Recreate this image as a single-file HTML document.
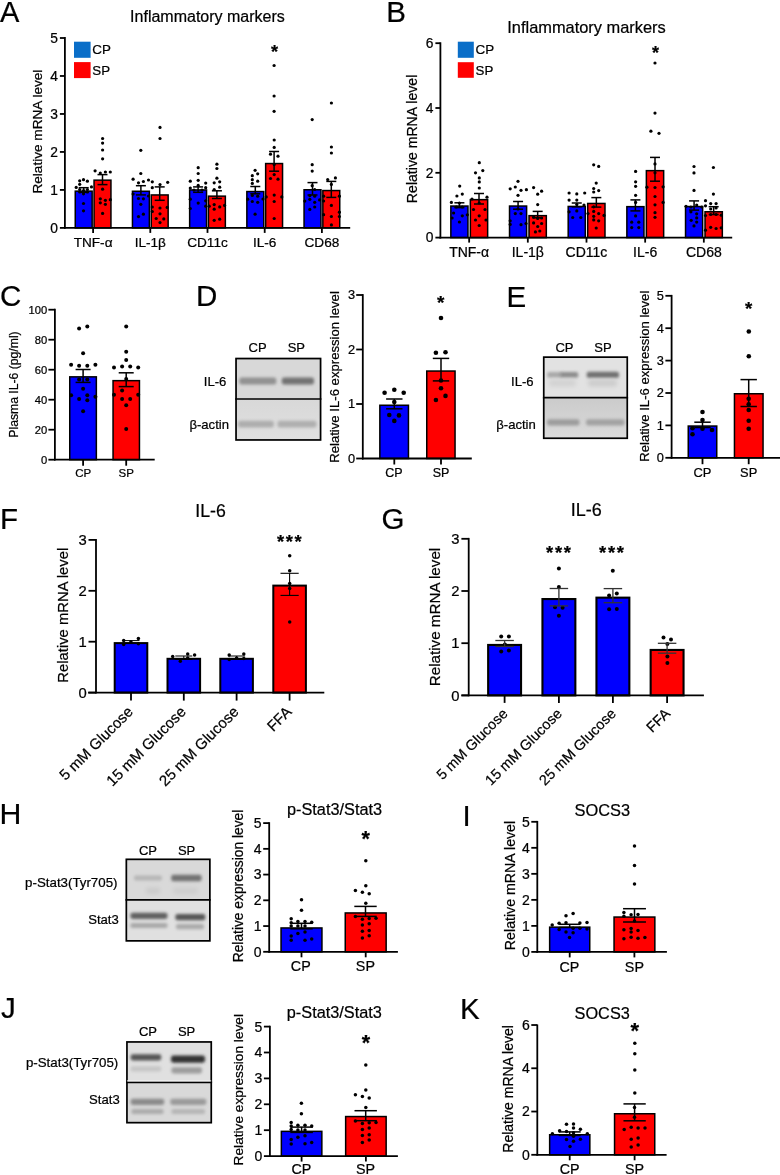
<!DOCTYPE html>
<html><head><meta charset="utf-8"><style>
html,body{margin:0;padding:0;background:#fff;}
svg{display:block;will-change:transform;font-family:"Liberation Sans", sans-serif;}
text{stroke:#000;stroke-width:0.22px;}
</style></head><body>
<svg width="780" height="1175" viewBox="0 0 780 1175">
<defs>
<filter id="bl1" x="-20%" y="-100%" width="140%" height="300%"><feGaussianBlur stdDeviation="1.5"/></filter>
<linearGradient id="gE" x1="0" y1="0" x2="0" y2="1"><stop offset="0" stop-color="#cbcbcb"/><stop offset="0.6" stop-color="#d4d4d4"/><stop offset="1" stop-color="#dcdcdc"/></linearGradient>
<linearGradient id="gD" x1="0" y1="0" x2="0" y2="1"><stop offset="0" stop-color="#d8d8d8"/><stop offset="1" stop-color="#e0e0e0"/></linearGradient>
<filter id="bl2" x="-20%" y="-100%" width="140%" height="300%"><feGaussianBlur stdDeviation="2.0"/></filter>
</defs>
<rect width="780" height="1175" fill="#fff"/>
<text x="0.00" y="21.70" font-size="29" text-anchor="start" fill="#000">A</text>
<text x="130.10" y="21.90" font-size="16" text-anchor="start" fill="#000">Inflammatory markers</text>
<text x="41.70" y="131.60" font-size="13.6" text-anchor="middle" fill="#000" transform="rotate(-90 41.70 131.60)">Relative mRNA level</text>
<line x1="64.90" y1="37.10" x2="64.90" y2="228.80" stroke="#000" stroke-width="1.8"/>
<line x1="59.90" y1="227.90" x2="64.90" y2="227.90" stroke="#000" stroke-width="1.8"/>
<text x="58.00" y="232.73" font-size="13.8" text-anchor="end" fill="#000">0</text>
<line x1="59.90" y1="189.92" x2="64.90" y2="189.92" stroke="#000" stroke-width="1.8"/>
<text x="58.00" y="194.75" font-size="13.8" text-anchor="end" fill="#000">1</text>
<line x1="59.90" y1="151.94" x2="64.90" y2="151.94" stroke="#000" stroke-width="1.8"/>
<text x="58.00" y="156.77" font-size="13.8" text-anchor="end" fill="#000">2</text>
<line x1="59.90" y1="113.96" x2="64.90" y2="113.96" stroke="#000" stroke-width="1.8"/>
<text x="58.00" y="118.79" font-size="13.8" text-anchor="end" fill="#000">3</text>
<line x1="59.90" y1="75.98" x2="64.90" y2="75.98" stroke="#000" stroke-width="1.8"/>
<text x="58.00" y="80.81" font-size="13.8" text-anchor="end" fill="#000">4</text>
<line x1="59.90" y1="38.00" x2="64.90" y2="38.00" stroke="#000" stroke-width="1.8"/>
<text x="58.00" y="42.83" font-size="13.8" text-anchor="end" fill="#000">5</text>
<rect x="75.25" y="191.15" width="16.90" height="36.75" fill="#0000ff" stroke="#000" stroke-width="1.5"/>
<rect x="94.05" y="180.15" width="16.90" height="47.75" fill="#ff0000" stroke="#000" stroke-width="1.5"/>
<rect x="132.45" y="191.25" width="16.90" height="36.65" fill="#0000ff" stroke="#000" stroke-width="1.5"/>
<rect x="151.25" y="194.95" width="16.90" height="32.95" fill="#ff0000" stroke="#000" stroke-width="1.5"/>
<rect x="189.65" y="189.95" width="16.90" height="37.95" fill="#0000ff" stroke="#000" stroke-width="1.5"/>
<rect x="208.45" y="196.15" width="16.90" height="31.75" fill="#ff0000" stroke="#000" stroke-width="1.5"/>
<rect x="246.85" y="191.55" width="16.90" height="36.35" fill="#0000ff" stroke="#000" stroke-width="1.5"/>
<rect x="265.65" y="163.55" width="16.90" height="64.35" fill="#ff0000" stroke="#000" stroke-width="1.5"/>
<rect x="304.05" y="189.75" width="16.90" height="38.15" fill="#0000ff" stroke="#000" stroke-width="1.5"/>
<rect x="322.85" y="190.55" width="16.90" height="37.35" fill="#ff0000" stroke="#000" stroke-width="1.5"/>
<circle cx="79.70" cy="180.80" r="1.6"/>
<circle cx="83.50" cy="179.70" r="1.6"/>
<circle cx="87.40" cy="181.20" r="1.6"/>
<circle cx="79.70" cy="184.30" r="1.6"/>
<circle cx="76.20" cy="187.40" r="1.6"/>
<circle cx="91.50" cy="186.90" r="1.6"/>
<circle cx="79.70" cy="189.50" r="1.6"/>
<circle cx="83.50" cy="190.50" r="1.6"/>
<circle cx="87.40" cy="189.50" r="1.6"/>
<circle cx="83.50" cy="193.80" r="1.6"/>
<circle cx="83.50" cy="203.50" r="1.6"/>
<circle cx="83.50" cy="210.80" r="1.6"/>
<circle cx="79.70" cy="192.00" r="1.6"/>
<circle cx="87.40" cy="192.00" r="1.6"/>
<circle cx="102.60" cy="138.50" r="1.6"/>
<circle cx="102.60" cy="143.10" r="1.6"/>
<circle cx="102.60" cy="150.00" r="1.6"/>
<circle cx="102.60" cy="158.80" r="1.6"/>
<circle cx="95.10" cy="170.80" r="1.6"/>
<circle cx="100.30" cy="173.10" r="1.6"/>
<circle cx="105.40" cy="172.00" r="1.6"/>
<circle cx="110.30" cy="172.00" r="1.6"/>
<circle cx="102.60" cy="189.20" r="1.6"/>
<circle cx="100.30" cy="198.80" r="1.6"/>
<circle cx="105.40" cy="200.30" r="1.6"/>
<circle cx="110.30" cy="199.70" r="1.6"/>
<circle cx="100.30" cy="202.80" r="1.6"/>
<circle cx="105.40" cy="204.30" r="1.6"/>
<circle cx="102.60" cy="213.40" r="1.6"/>
<line x1="83.70" y1="187.70" x2="83.70" y2="192.30" stroke="#000" stroke-width="1.5"/>
<line x1="78.70" y1="187.70" x2="88.70" y2="187.70" stroke="#000" stroke-width="1.5"/>
<line x1="78.70" y1="192.30" x2="88.70" y2="192.30" stroke="#000" stroke-width="1.5"/>
<line x1="102.50" y1="174.60" x2="102.50" y2="184.60" stroke="#000" stroke-width="1.5"/>
<line x1="97.50" y1="174.60" x2="107.50" y2="174.60" stroke="#000" stroke-width="1.5"/>
<line x1="97.50" y1="184.60" x2="107.50" y2="184.60" stroke="#000" stroke-width="1.5"/>
<circle cx="140.80" cy="150.30" r="1.6"/>
<circle cx="140.80" cy="173.50" r="1.6"/>
<circle cx="133.10" cy="179.20" r="1.6"/>
<circle cx="138.50" cy="182.80" r="1.6"/>
<circle cx="143.40" cy="181.50" r="1.6"/>
<circle cx="148.50" cy="180.00" r="1.6"/>
<circle cx="138.50" cy="198.50" r="1.6"/>
<circle cx="143.40" cy="198.80" r="1.6"/>
<circle cx="140.80" cy="204.30" r="1.6"/>
<circle cx="143.40" cy="214.20" r="1.6"/>
<circle cx="138.50" cy="216.60" r="1.6"/>
<circle cx="148.50" cy="196.00" r="1.6"/>
<circle cx="133.10" cy="194.00" r="1.6"/>
<circle cx="160.00" cy="127.40" r="1.6"/>
<circle cx="160.00" cy="138.50" r="1.6"/>
<circle cx="152.30" cy="181.80" r="1.6"/>
<circle cx="160.00" cy="184.60" r="1.6"/>
<circle cx="167.70" cy="182.30" r="1.6"/>
<circle cx="152.30" cy="187.70" r="1.6"/>
<circle cx="160.00" cy="208.00" r="1.6"/>
<circle cx="152.30" cy="207.00" r="1.6"/>
<circle cx="152.30" cy="211.50" r="1.6"/>
<circle cx="167.20" cy="207.40" r="1.6"/>
<circle cx="160.00" cy="213.80" r="1.6"/>
<circle cx="156.20" cy="218.50" r="1.6"/>
<circle cx="163.80" cy="218.90" r="1.6"/>
<circle cx="160.00" cy="222.60" r="1.6"/>
<line x1="140.90" y1="185.70" x2="140.90" y2="194.90" stroke="#000" stroke-width="1.5"/>
<line x1="135.90" y1="185.70" x2="145.90" y2="185.70" stroke="#000" stroke-width="1.5"/>
<line x1="135.90" y1="194.90" x2="145.90" y2="194.90" stroke="#000" stroke-width="1.5"/>
<line x1="159.70" y1="186.90" x2="159.70" y2="200.30" stroke="#000" stroke-width="1.5"/>
<line x1="154.70" y1="186.90" x2="164.70" y2="186.90" stroke="#000" stroke-width="1.5"/>
<line x1="154.70" y1="200.30" x2="164.70" y2="200.30" stroke="#000" stroke-width="1.5"/>
<circle cx="198.20" cy="167.70" r="1.6"/>
<circle cx="198.20" cy="173.50" r="1.6"/>
<circle cx="190.30" cy="181.20" r="1.6"/>
<circle cx="198.20" cy="180.30" r="1.6"/>
<circle cx="205.70" cy="183.10" r="1.6"/>
<circle cx="198.20" cy="185.40" r="1.6"/>
<circle cx="205.70" cy="187.70" r="1.6"/>
<circle cx="190.30" cy="188.00" r="1.6"/>
<circle cx="198.20" cy="203.10" r="1.6"/>
<circle cx="190.30" cy="199.20" r="1.6"/>
<circle cx="190.30" cy="208.50" r="1.6"/>
<circle cx="205.70" cy="200.80" r="1.6"/>
<circle cx="205.70" cy="206.20" r="1.6"/>
<circle cx="194.00" cy="190.00" r="1.6"/>
<circle cx="202.00" cy="190.00" r="1.6"/>
<circle cx="216.90" cy="164.20" r="1.6"/>
<circle cx="216.90" cy="168.50" r="1.6"/>
<circle cx="216.90" cy="178.20" r="1.6"/>
<circle cx="214.20" cy="182.80" r="1.6"/>
<circle cx="219.70" cy="181.80" r="1.6"/>
<circle cx="219.70" cy="187.20" r="1.6"/>
<circle cx="214.20" cy="189.50" r="1.6"/>
<circle cx="214.20" cy="204.60" r="1.6"/>
<circle cx="219.70" cy="206.90" r="1.6"/>
<circle cx="214.20" cy="209.20" r="1.6"/>
<circle cx="224.60" cy="205.40" r="1.6"/>
<circle cx="209.20" cy="206.20" r="1.6"/>
<circle cx="214.20" cy="220.30" r="1.6"/>
<circle cx="219.70" cy="219.20" r="1.6"/>
<line x1="198.10" y1="186.90" x2="198.10" y2="192.30" stroke="#000" stroke-width="1.5"/>
<line x1="193.10" y1="186.90" x2="203.10" y2="186.90" stroke="#000" stroke-width="1.5"/>
<line x1="193.10" y1="192.30" x2="203.10" y2="192.30" stroke="#000" stroke-width="1.5"/>
<line x1="216.90" y1="190.80" x2="216.90" y2="198.50" stroke="#000" stroke-width="1.5"/>
<line x1="211.90" y1="190.80" x2="221.90" y2="190.80" stroke="#000" stroke-width="1.5"/>
<line x1="211.90" y1="198.50" x2="221.90" y2="198.50" stroke="#000" stroke-width="1.5"/>
<circle cx="255.10" cy="170.30" r="1.6"/>
<circle cx="257.70" cy="173.80" r="1.6"/>
<circle cx="252.30" cy="175.70" r="1.6"/>
<circle cx="252.30" cy="179.70" r="1.6"/>
<circle cx="257.70" cy="181.20" r="1.6"/>
<circle cx="252.30" cy="183.40" r="1.6"/>
<circle cx="252.30" cy="195.40" r="1.6"/>
<circle cx="257.70" cy="196.20" r="1.6"/>
<circle cx="247.70" cy="199.20" r="1.6"/>
<circle cx="252.30" cy="201.50" r="1.6"/>
<circle cx="257.70" cy="202.30" r="1.6"/>
<circle cx="263.00" cy="199.00" r="1.6"/>
<circle cx="255.10" cy="214.20" r="1.6"/>
<circle cx="274.10" cy="65.50" r="1.6"/>
<circle cx="274.10" cy="96.00" r="1.6"/>
<circle cx="274.10" cy="111.30" r="1.6"/>
<circle cx="274.20" cy="140.00" r="1.6"/>
<circle cx="274.20" cy="147.40" r="1.6"/>
<circle cx="270.50" cy="154.20" r="1.6"/>
<circle cx="278.00" cy="156.20" r="1.6"/>
<circle cx="274.20" cy="164.60" r="1.6"/>
<circle cx="270.50" cy="178.50" r="1.6"/>
<circle cx="278.00" cy="179.20" r="1.6"/>
<circle cx="274.20" cy="174.60" r="1.6"/>
<circle cx="274.20" cy="195.10" r="1.6"/>
<circle cx="266.20" cy="196.90" r="1.6"/>
<circle cx="281.80" cy="196.90" r="1.6"/>
<circle cx="274.20" cy="201.50" r="1.6"/>
<circle cx="274.20" cy="218.50" r="1.6"/>
<line x1="255.30" y1="186.50" x2="255.30" y2="193.80" stroke="#000" stroke-width="1.5"/>
<line x1="250.30" y1="186.50" x2="260.30" y2="186.50" stroke="#000" stroke-width="1.5"/>
<line x1="250.30" y1="193.80" x2="260.30" y2="193.80" stroke="#000" stroke-width="1.5"/>
<line x1="274.10" y1="151.50" x2="274.10" y2="171.20" stroke="#000" stroke-width="1.5"/>
<line x1="269.10" y1="151.50" x2="279.10" y2="151.50" stroke="#000" stroke-width="1.5"/>
<line x1="269.10" y1="171.20" x2="279.10" y2="171.20" stroke="#000" stroke-width="1.5"/>
<circle cx="312.20" cy="119.60" r="1.6"/>
<circle cx="312.20" cy="164.70" r="1.6"/>
<circle cx="312.20" cy="171.10" r="1.6"/>
<circle cx="312.20" cy="185.70" r="1.6"/>
<circle cx="314.70" cy="189.50" r="1.6"/>
<circle cx="309.80" cy="195.60" r="1.6"/>
<circle cx="314.70" cy="196.20" r="1.6"/>
<circle cx="309.80" cy="199.30" r="1.6"/>
<circle cx="319.60" cy="199.90" r="1.6"/>
<circle cx="304.80" cy="201.10" r="1.6"/>
<circle cx="314.70" cy="202.30" r="1.6"/>
<circle cx="314.70" cy="207.00" r="1.6"/>
<circle cx="309.80" cy="209.40" r="1.6"/>
<circle cx="331.40" cy="103.00" r="1.6"/>
<circle cx="331.40" cy="147.00" r="1.6"/>
<circle cx="331.40" cy="153.00" r="1.6"/>
<circle cx="327.70" cy="179.50" r="1.6"/>
<circle cx="335.40" cy="177.90" r="1.6"/>
<circle cx="331.40" cy="184.40" r="1.6"/>
<circle cx="323.60" cy="196.20" r="1.6"/>
<circle cx="339.40" cy="196.20" r="1.6"/>
<circle cx="331.40" cy="205.40" r="1.6"/>
<circle cx="323.60" cy="201.00" r="1.6"/>
<circle cx="339.40" cy="212.20" r="1.6"/>
<circle cx="323.60" cy="214.70" r="1.6"/>
<circle cx="331.40" cy="216.50" r="1.6"/>
<circle cx="339.40" cy="216.50" r="1.6"/>
<circle cx="331.40" cy="224.90" r="1.6"/>
<line x1="312.50" y1="182.60" x2="312.50" y2="195.00" stroke="#000" stroke-width="1.5"/>
<line x1="307.50" y1="182.60" x2="317.50" y2="182.60" stroke="#000" stroke-width="1.5"/>
<line x1="307.50" y1="195.00" x2="317.50" y2="195.00" stroke="#000" stroke-width="1.5"/>
<line x1="331.30" y1="181.40" x2="331.30" y2="197.40" stroke="#000" stroke-width="1.5"/>
<line x1="326.30" y1="181.40" x2="336.30" y2="181.40" stroke="#000" stroke-width="1.5"/>
<line x1="326.30" y1="197.40" x2="336.30" y2="197.40" stroke="#000" stroke-width="1.5"/>
<line x1="64.10" y1="227.90" x2="350.20" y2="227.90" stroke="#000" stroke-width="1.8"/>
<line x1="93.10" y1="227.90" x2="93.10" y2="232.90" stroke="#000" stroke-width="1.8"/>
<line x1="150.30" y1="227.90" x2="150.30" y2="232.90" stroke="#000" stroke-width="1.8"/>
<line x1="207.50" y1="227.90" x2="207.50" y2="232.90" stroke="#000" stroke-width="1.8"/>
<line x1="264.70" y1="227.90" x2="264.70" y2="232.90" stroke="#000" stroke-width="1.8"/>
<line x1="321.90" y1="227.90" x2="321.90" y2="232.90" stroke="#000" stroke-width="1.8"/>
<rect x="74.00" y="41.70" width="16.60" height="16.10" fill="#0a6ec8"/>
<rect x="74.00" y="62.10" width="16.60" height="16.00" fill="#ff0000"/>
<text x="92.30" y="53.60" font-size="13.4" text-anchor="start" fill="#000">CP</text>
<text x="92.30" y="74.70" font-size="13.3" text-anchor="start" fill="#000">SP</text>
<text x="93.10" y="246.80" font-size="13.6" text-anchor="middle" fill="#000">TNF-α</text>
<text x="150.30" y="246.80" font-size="13.6" text-anchor="middle" fill="#000">IL-1β</text>
<text x="207.50" y="246.80" font-size="13.6" text-anchor="middle" fill="#000">CD11c</text>
<text x="264.70" y="246.80" font-size="13.6" text-anchor="middle" fill="#000">IL-6</text>
<text x="321.90" y="246.80" font-size="13.6" text-anchor="middle" fill="#000">CD68</text>
<text x="274.45" y="57.83" font-size="18.2" text-anchor="middle" fill="#000" font-weight="bold">*</text>
<text x="386.20" y="21.50" font-size="29.5" text-anchor="start" fill="#000">B</text>
<text x="507.30" y="32.60" font-size="16.4" text-anchor="start" fill="#000">Inflammatory markers</text>
<text x="417.00" y="138.90" font-size="14.1" text-anchor="middle" fill="#000" transform="rotate(-90 417.00 138.90)">Relative mRNA level</text>
<line x1="440.40" y1="42.30" x2="440.40" y2="238.50" stroke="#000" stroke-width="1.8"/>
<line x1="435.40" y1="237.60" x2="440.40" y2="237.60" stroke="#000" stroke-width="1.8"/>
<text x="433.50" y="242.43" font-size="13.8" text-anchor="end" fill="#000">0</text>
<line x1="435.40" y1="172.80" x2="440.40" y2="172.80" stroke="#000" stroke-width="1.8"/>
<text x="433.50" y="177.63" font-size="13.8" text-anchor="end" fill="#000">2</text>
<line x1="435.40" y1="108.00" x2="440.40" y2="108.00" stroke="#000" stroke-width="1.8"/>
<text x="433.50" y="112.83" font-size="13.8" text-anchor="end" fill="#000">4</text>
<line x1="435.40" y1="43.20" x2="440.40" y2="43.20" stroke="#000" stroke-width="1.8"/>
<text x="433.50" y="48.03" font-size="13.8" text-anchor="end" fill="#000">6</text>
<rect x="450.85" y="206.05" width="17.10" height="31.55" fill="#0000ff" stroke="#000" stroke-width="1.5"/>
<rect x="470.35" y="199.65" width="17.30" height="37.95" fill="#ff0000" stroke="#000" stroke-width="1.5"/>
<rect x="509.52" y="206.05" width="17.10" height="31.55" fill="#0000ff" stroke="#000" stroke-width="1.5"/>
<rect x="529.02" y="215.65" width="17.30" height="21.95" fill="#ff0000" stroke="#000" stroke-width="1.5"/>
<rect x="568.19" y="206.45" width="17.10" height="31.15" fill="#0000ff" stroke="#000" stroke-width="1.5"/>
<rect x="587.69" y="203.45" width="17.30" height="34.15" fill="#ff0000" stroke="#000" stroke-width="1.5"/>
<rect x="626.86" y="206.65" width="17.10" height="30.95" fill="#0000ff" stroke="#000" stroke-width="1.5"/>
<rect x="646.36" y="170.65" width="17.30" height="66.95" fill="#ff0000" stroke="#000" stroke-width="1.5"/>
<rect x="685.53" y="206.55" width="17.10" height="31.05" fill="#0000ff" stroke="#000" stroke-width="1.5"/>
<rect x="705.03" y="211.75" width="17.30" height="25.85" fill="#ff0000" stroke="#000" stroke-width="1.5"/>
<circle cx="459.70" cy="186.10" r="1.6"/>
<circle cx="456.90" cy="196.00" r="1.6"/>
<circle cx="462.30" cy="194.10" r="1.6"/>
<circle cx="451.40" cy="202.40" r="1.6"/>
<circle cx="459.40" cy="203.00" r="1.6"/>
<circle cx="456.30" cy="207.00" r="1.6"/>
<circle cx="462.30" cy="207.00" r="1.6"/>
<circle cx="453.60" cy="213.00" r="1.6"/>
<circle cx="462.30" cy="215.80" r="1.6"/>
<circle cx="467.30" cy="214.80" r="1.6"/>
<circle cx="452.10" cy="218.00" r="1.6"/>
<circle cx="459.40" cy="222.00" r="1.6"/>
<circle cx="479.30" cy="162.70" r="1.6"/>
<circle cx="475.50" cy="172.80" r="1.6"/>
<circle cx="482.80" cy="170.60" r="1.6"/>
<circle cx="479.30" cy="177.90" r="1.6"/>
<circle cx="479.30" cy="181.90" r="1.6"/>
<circle cx="479.30" cy="188.00" r="1.6"/>
<circle cx="487.00" cy="197.20" r="1.6"/>
<circle cx="472.00" cy="199.00" r="1.6"/>
<circle cx="479.20" cy="203.00" r="1.6"/>
<circle cx="473.50" cy="209.50" r="1.6"/>
<circle cx="485.00" cy="209.50" r="1.6"/>
<circle cx="479.20" cy="215.80" r="1.6"/>
<circle cx="475.50" cy="220.00" r="1.6"/>
<circle cx="486.00" cy="220.00" r="1.6"/>
<circle cx="479.20" cy="225.50" r="1.6"/>
<line x1="459.40" y1="202.80" x2="459.40" y2="207.60" stroke="#000" stroke-width="1.5"/>
<line x1="454.40" y1="202.80" x2="464.40" y2="202.80" stroke="#000" stroke-width="1.5"/>
<line x1="454.40" y1="207.60" x2="464.40" y2="207.60" stroke="#000" stroke-width="1.5"/>
<line x1="479.00" y1="193.50" x2="479.00" y2="204.00" stroke="#000" stroke-width="1.5"/>
<line x1="474.00" y1="193.50" x2="484.00" y2="193.50" stroke="#000" stroke-width="1.5"/>
<line x1="474.00" y1="204.00" x2="484.00" y2="204.00" stroke="#000" stroke-width="1.5"/>
<circle cx="518.00" cy="181.30" r="1.6"/>
<circle cx="510.20" cy="188.80" r="1.6"/>
<circle cx="515.30" cy="187.00" r="1.6"/>
<circle cx="521.00" cy="190.30" r="1.6"/>
<circle cx="526.40" cy="189.70" r="1.6"/>
<circle cx="518.00" cy="195.30" r="1.6"/>
<circle cx="518.00" cy="209.00" r="1.6"/>
<circle cx="515.30" cy="213.60" r="1.6"/>
<circle cx="521.00" cy="213.60" r="1.6"/>
<circle cx="510.20" cy="220.80" r="1.6"/>
<circle cx="510.20" cy="224.40" r="1.6"/>
<circle cx="521.00" cy="224.70" r="1.6"/>
<circle cx="526.00" cy="223.50" r="1.6"/>
<circle cx="533.60" cy="187.60" r="1.6"/>
<circle cx="541.60" cy="191.20" r="1.6"/>
<circle cx="537.70" cy="194.20" r="1.6"/>
<circle cx="537.70" cy="204.60" r="1.6"/>
<circle cx="533.60" cy="217.20" r="1.6"/>
<circle cx="541.60" cy="218.00" r="1.6"/>
<circle cx="537.70" cy="218.40" r="1.6"/>
<circle cx="533.60" cy="222.90" r="1.6"/>
<circle cx="541.60" cy="223.50" r="1.6"/>
<circle cx="537.70" cy="226.50" r="1.6"/>
<circle cx="535.40" cy="231.90" r="1.6"/>
<circle cx="539.80" cy="231.00" r="1.6"/>
<line x1="518.07" y1="201.50" x2="518.07" y2="209.20" stroke="#000" stroke-width="1.5"/>
<line x1="513.07" y1="201.50" x2="523.07" y2="201.50" stroke="#000" stroke-width="1.5"/>
<line x1="513.07" y1="209.20" x2="523.07" y2="209.20" stroke="#000" stroke-width="1.5"/>
<line x1="537.67" y1="211.40" x2="537.67" y2="217.80" stroke="#000" stroke-width="1.5"/>
<line x1="532.67" y1="211.40" x2="542.67" y2="211.40" stroke="#000" stroke-width="1.5"/>
<line x1="532.67" y1="217.80" x2="542.67" y2="217.80" stroke="#000" stroke-width="1.5"/>
<circle cx="569.10" cy="193.00" r="1.6"/>
<circle cx="576.80" cy="193.90" r="1.6"/>
<circle cx="584.70" cy="193.00" r="1.6"/>
<circle cx="569.10" cy="200.10" r="1.6"/>
<circle cx="576.80" cy="200.10" r="1.6"/>
<circle cx="576.80" cy="204.60" r="1.6"/>
<circle cx="569.10" cy="211.80" r="1.6"/>
<circle cx="576.80" cy="210.90" r="1.6"/>
<circle cx="572.70" cy="217.50" r="1.6"/>
<circle cx="580.80" cy="217.50" r="1.6"/>
<circle cx="584.00" cy="205.00" r="1.6"/>
<circle cx="593.70" cy="164.80" r="1.6"/>
<circle cx="598.70" cy="166.40" r="1.6"/>
<circle cx="596.20" cy="183.10" r="1.6"/>
<circle cx="593.70" cy="188.50" r="1.6"/>
<circle cx="593.70" cy="192.00" r="1.6"/>
<circle cx="598.70" cy="190.60" r="1.6"/>
<circle cx="593.70" cy="206.80" r="1.6"/>
<circle cx="588.00" cy="213.60" r="1.6"/>
<circle cx="593.70" cy="211.40" r="1.6"/>
<circle cx="598.70" cy="213.60" r="1.6"/>
<circle cx="604.00" cy="215.40" r="1.6"/>
<circle cx="593.70" cy="216.30" r="1.6"/>
<circle cx="598.70" cy="220.80" r="1.6"/>
<circle cx="593.70" cy="219.90" r="1.6"/>
<circle cx="596.20" cy="228.00" r="1.6"/>
<line x1="576.74" y1="203.00" x2="576.74" y2="206.80" stroke="#000" stroke-width="1.5"/>
<line x1="571.74" y1="203.00" x2="581.74" y2="203.00" stroke="#000" stroke-width="1.5"/>
<line x1="571.74" y1="206.80" x2="581.74" y2="206.80" stroke="#000" stroke-width="1.5"/>
<line x1="596.34" y1="197.60" x2="596.34" y2="207.10" stroke="#000" stroke-width="1.5"/>
<line x1="591.34" y1="197.60" x2="601.34" y2="197.60" stroke="#000" stroke-width="1.5"/>
<line x1="591.34" y1="207.10" x2="601.34" y2="207.10" stroke="#000" stroke-width="1.5"/>
<circle cx="635.60" cy="171.40" r="1.6"/>
<circle cx="635.60" cy="181.80" r="1.6"/>
<circle cx="635.60" cy="186.30" r="1.6"/>
<circle cx="635.60" cy="195.30" r="1.6"/>
<circle cx="635.60" cy="202.40" r="1.6"/>
<circle cx="635.60" cy="215.90" r="1.6"/>
<circle cx="631.70" cy="222.20" r="1.6"/>
<circle cx="638.80" cy="222.20" r="1.6"/>
<circle cx="631.70" cy="227.60" r="1.6"/>
<circle cx="638.80" cy="227.60" r="1.6"/>
<circle cx="655.00" cy="63.00" r="1.6"/>
<circle cx="655.00" cy="113.10" r="1.6"/>
<circle cx="650.90" cy="131.20" r="1.6"/>
<circle cx="659.00" cy="133.30" r="1.6"/>
<circle cx="655.00" cy="163.90" r="1.6"/>
<circle cx="655.00" cy="172.80" r="1.6"/>
<circle cx="646.90" cy="187.20" r="1.6"/>
<circle cx="655.00" cy="187.50" r="1.6"/>
<circle cx="663.10" cy="186.80" r="1.6"/>
<circle cx="655.00" cy="196.50" r="1.6"/>
<circle cx="663.10" cy="202.40" r="1.6"/>
<circle cx="655.00" cy="204.80" r="1.6"/>
<circle cx="655.00" cy="212.70" r="1.6"/>
<circle cx="655.00" cy="217.30" r="1.6"/>
<line x1="635.41" y1="199.90" x2="635.41" y2="210.90" stroke="#000" stroke-width="1.5"/>
<line x1="630.41" y1="199.90" x2="640.41" y2="199.90" stroke="#000" stroke-width="1.5"/>
<line x1="630.41" y1="210.90" x2="640.41" y2="210.90" stroke="#000" stroke-width="1.5"/>
<line x1="655.01" y1="157.40" x2="655.01" y2="181.20" stroke="#000" stroke-width="1.5"/>
<line x1="650.01" y1="157.40" x2="660.01" y2="157.40" stroke="#000" stroke-width="1.5"/>
<line x1="650.01" y1="181.20" x2="660.01" y2="181.20" stroke="#000" stroke-width="1.5"/>
<circle cx="694.00" cy="166.50" r="1.6"/>
<circle cx="694.00" cy="172.90" r="1.6"/>
<circle cx="694.00" cy="190.40" r="1.6"/>
<circle cx="686.00" cy="206.30" r="1.6"/>
<circle cx="690.90" cy="207.00" r="1.6"/>
<circle cx="696.70" cy="205.00" r="1.6"/>
<circle cx="701.80" cy="207.00" r="1.6"/>
<circle cx="690.90" cy="211.80" r="1.6"/>
<circle cx="696.70" cy="213.80" r="1.6"/>
<circle cx="696.70" cy="217.90" r="1.6"/>
<circle cx="691.20" cy="220.30" r="1.6"/>
<circle cx="696.70" cy="222.10" r="1.6"/>
<circle cx="694.00" cy="225.90" r="1.6"/>
<circle cx="713.40" cy="167.50" r="1.6"/>
<circle cx="713.40" cy="194.10" r="1.6"/>
<circle cx="705.50" cy="200.70" r="1.6"/>
<circle cx="705.50" cy="205.80" r="1.6"/>
<circle cx="710.70" cy="203.60" r="1.6"/>
<circle cx="716.10" cy="203.60" r="1.6"/>
<circle cx="710.70" cy="209.00" r="1.6"/>
<circle cx="716.10" cy="208.00" r="1.6"/>
<circle cx="710.70" cy="214.50" r="1.6"/>
<circle cx="716.10" cy="214.50" r="1.6"/>
<circle cx="705.50" cy="215.50" r="1.6"/>
<circle cx="721.20" cy="215.20" r="1.6"/>
<circle cx="710.70" cy="227.30" r="1.6"/>
<circle cx="716.10" cy="228.50" r="1.6"/>
<circle cx="705.50" cy="230.20" r="1.6"/>
<circle cx="721.20" cy="227.80" r="1.6"/>
<line x1="694.08" y1="200.90" x2="694.08" y2="210.10" stroke="#000" stroke-width="1.5"/>
<line x1="689.08" y1="200.90" x2="699.08" y2="200.90" stroke="#000" stroke-width="1.5"/>
<line x1="689.08" y1="210.10" x2="699.08" y2="210.10" stroke="#000" stroke-width="1.5"/>
<line x1="713.68" y1="206.70" x2="713.68" y2="214.50" stroke="#000" stroke-width="1.5"/>
<line x1="708.68" y1="206.70" x2="718.68" y2="206.70" stroke="#000" stroke-width="1.5"/>
<line x1="708.68" y1="214.50" x2="718.68" y2="214.50" stroke="#000" stroke-width="1.5"/>
<line x1="439.60" y1="237.60" x2="732.20" y2="237.60" stroke="#000" stroke-width="1.8"/>
<line x1="469.15" y1="237.60" x2="469.15" y2="242.60" stroke="#000" stroke-width="1.8"/>
<line x1="527.82" y1="237.60" x2="527.82" y2="242.60" stroke="#000" stroke-width="1.8"/>
<line x1="586.49" y1="237.60" x2="586.49" y2="242.60" stroke="#000" stroke-width="1.8"/>
<line x1="645.16" y1="237.60" x2="645.16" y2="242.60" stroke="#000" stroke-width="1.8"/>
<line x1="703.83" y1="237.60" x2="703.83" y2="242.60" stroke="#000" stroke-width="1.8"/>
<rect x="457.80" y="41.70" width="16.00" height="16.10" fill="#0a6ec8"/>
<rect x="457.80" y="62.20" width="16.00" height="15.60" fill="#ff0000"/>
<text x="475.60" y="53.60" font-size="13.4" text-anchor="start" fill="#000">CP</text>
<text x="475.60" y="74.70" font-size="13.3" text-anchor="start" fill="#000">SP</text>
<text x="469.15" y="257.00" font-size="14" text-anchor="middle" fill="#000">TNF-α</text>
<text x="527.82" y="257.00" font-size="14" text-anchor="middle" fill="#000">IL-1β</text>
<text x="586.49" y="257.00" font-size="14" text-anchor="middle" fill="#000">CD11c</text>
<text x="645.16" y="257.00" font-size="14" text-anchor="middle" fill="#000">IL-6</text>
<text x="703.83" y="257.00" font-size="14" text-anchor="middle" fill="#000">CD68</text>
<text x="655.40" y="59.38" font-size="18.0" text-anchor="middle" fill="#000" font-weight="bold">*</text>
<text x="0.00" y="306.20" font-size="29.5" text-anchor="start" fill="#000">C</text>
<text x="17.80" y="384.50" font-size="12.2" text-anchor="middle" fill="#000" transform="rotate(-90 17.80 384.50)">Plasma IL-6 (pg/ml)</text>
<line x1="54.90" y1="308.80" x2="54.90" y2="460.60" stroke="#000" stroke-width="1.8"/>
<line x1="48.40" y1="459.70" x2="54.90" y2="459.70" stroke="#000" stroke-width="1.8"/>
<text x="47.20" y="463.62" font-size="11.2" text-anchor="end" fill="#000">0</text>
<line x1="48.40" y1="429.70" x2="54.90" y2="429.70" stroke="#000" stroke-width="1.8"/>
<text x="47.20" y="433.62" font-size="11.2" text-anchor="end" fill="#000">20</text>
<line x1="48.40" y1="399.70" x2="54.90" y2="399.70" stroke="#000" stroke-width="1.8"/>
<text x="47.20" y="403.62" font-size="11.2" text-anchor="end" fill="#000">40</text>
<line x1="48.40" y1="369.70" x2="54.90" y2="369.70" stroke="#000" stroke-width="1.8"/>
<text x="47.20" y="373.62" font-size="11.2" text-anchor="end" fill="#000">60</text>
<line x1="48.40" y1="339.70" x2="54.90" y2="339.70" stroke="#000" stroke-width="1.8"/>
<text x="47.20" y="343.62" font-size="11.2" text-anchor="end" fill="#000">80</text>
<line x1="48.40" y1="309.70" x2="54.90" y2="309.70" stroke="#000" stroke-width="1.8"/>
<text x="47.20" y="313.62" font-size="11.2" text-anchor="end" fill="#000">100</text>
<rect x="69.75" y="376.85" width="26.60" height="82.85" fill="#0000ff" stroke="#000" stroke-width="1.5"/>
<rect x="113.05" y="380.65" width="26.40" height="79.05" fill="#ff0000" stroke="#000" stroke-width="1.5"/>
<circle cx="79.10" cy="328.60" r="2.0"/>
<circle cx="87.30" cy="326.50" r="2.0"/>
<circle cx="83.10" cy="353.20" r="2.0"/>
<circle cx="71.10" cy="364.80" r="2.0"/>
<circle cx="79.10" cy="365.80" r="2.0"/>
<circle cx="87.30" cy="365.80" r="2.0"/>
<circle cx="95.40" cy="364.80" r="2.0"/>
<circle cx="79.10" cy="379.60" r="2.0"/>
<circle cx="87.30" cy="379.60" r="2.0"/>
<circle cx="83.10" cy="388.70" r="2.0"/>
<circle cx="71.10" cy="395.30" r="2.0"/>
<circle cx="87.30" cy="395.30" r="2.0"/>
<circle cx="95.40" cy="396.70" r="2.0"/>
<circle cx="79.10" cy="398.90" r="2.0"/>
<circle cx="87.30" cy="400.20" r="2.0"/>
<circle cx="83.10" cy="411.20" r="2.0"/>
<circle cx="126.20" cy="326.50" r="2.0"/>
<circle cx="126.20" cy="351.80" r="2.0"/>
<circle cx="126.20" cy="359.90" r="2.0"/>
<circle cx="114.00" cy="367.60" r="2.0"/>
<circle cx="122.10" cy="366.50" r="2.0"/>
<circle cx="130.20" cy="366.50" r="2.0"/>
<circle cx="138.20" cy="367.60" r="2.0"/>
<circle cx="126.20" cy="378.90" r="2.0"/>
<circle cx="122.10" cy="390.50" r="2.0"/>
<circle cx="114.00" cy="394.70" r="2.0"/>
<circle cx="138.20" cy="394.70" r="2.0"/>
<circle cx="122.10" cy="398.90" r="2.0"/>
<circle cx="130.20" cy="398.90" r="2.0"/>
<circle cx="126.20" cy="405.30" r="2.0"/>
<circle cx="126.20" cy="429.00" r="2.0"/>
<line x1="83.10" y1="369.50" x2="83.10" y2="382.40" stroke="#000" stroke-width="1.5"/>
<line x1="75.60" y1="369.50" x2="90.60" y2="369.50" stroke="#000" stroke-width="1.5"/>
<line x1="75.60" y1="382.40" x2="90.60" y2="382.40" stroke="#000" stroke-width="1.5"/>
<line x1="126.20" y1="372.80" x2="126.20" y2="386.60" stroke="#000" stroke-width="1.5"/>
<line x1="118.70" y1="372.80" x2="133.70" y2="372.80" stroke="#000" stroke-width="1.5"/>
<line x1="118.70" y1="386.60" x2="133.70" y2="386.60" stroke="#000" stroke-width="1.5"/>
<line x1="54.10" y1="459.70" x2="154.70" y2="459.70" stroke="#000" stroke-width="1.8"/>
<line x1="83.10" y1="459.70" x2="83.10" y2="465.70" stroke="#000" stroke-width="1.8"/>
<line x1="126.20" y1="459.70" x2="126.20" y2="465.70" stroke="#000" stroke-width="1.8"/>
<text x="83.30" y="477.00" font-size="11.5" text-anchor="middle" fill="#000">CP</text>
<text x="126.20" y="477.00" font-size="11.5" text-anchor="middle" fill="#000">SP</text>
<text x="196.10" y="306.20" font-size="29.5" text-anchor="start" fill="#000">D</text>
<rect x="235.20" y="357.70" width="86.20" height="41.30" fill="#d8d8d8"/>
<rect x="235.20" y="399.00" width="86.20" height="41.80" fill="url(#gD)"/>
<rect x="239.30" y="377.40" width="37.00" height="7.20" rx="2.40" fill="#919191" fill-opacity="1" filter="url(#bl1)"/>
<rect x="281.80" y="377.40" width="32.20" height="7.20" rx="2.40" fill="#727272" fill-opacity="1" filter="url(#bl1)"/>
<rect x="238.00" y="420.75" width="35.80" height="6.70" rx="2.23" fill="#adadad" fill-opacity="1" filter="url(#bl1)"/>
<rect x="277.50" y="420.75" width="39.00" height="6.70" rx="2.23" fill="#afafaf" fill-opacity="1" filter="url(#bl1)"/>
<rect x="236.05" y="358.55" width="84.50" height="81.40" fill="none" stroke="#000" stroke-width="1.7"/>
<line x1="235.20" y1="399.00" x2="321.40" y2="399.00" stroke="#000" stroke-width="1.7"/>
<text x="257.60" y="352.00" font-size="13" text-anchor="middle" fill="#000">CP</text>
<text x="296.30" y="352.00" font-size="13" text-anchor="middle" fill="#000">SP</text>
<text x="226.40" y="386.20" font-size="13.1" text-anchor="end" fill="#000">IL-6</text>
<text x="229.00" y="429.00" font-size="13.1" text-anchor="end" fill="#000">β-actin</text>
<text x="339.00" y="377.00" font-size="13.15" text-anchor="middle" fill="#000" transform="rotate(-90 339.00 377.00)">Relative IL-6 expression level</text>
<line x1="362.80" y1="294.10" x2="362.80" y2="459.40" stroke="#000" stroke-width="1.8"/>
<line x1="356.20" y1="458.50" x2="362.80" y2="458.50" stroke="#000" stroke-width="1.8"/>
<text x="355.00" y="462.98" font-size="12.8" text-anchor="end" fill="#000">0</text>
<line x1="356.20" y1="404.00" x2="362.80" y2="404.00" stroke="#000" stroke-width="1.8"/>
<text x="355.00" y="408.48" font-size="12.8" text-anchor="end" fill="#000">1</text>
<line x1="356.20" y1="349.50" x2="362.80" y2="349.50" stroke="#000" stroke-width="1.8"/>
<text x="355.00" y="353.98" font-size="12.8" text-anchor="end" fill="#000">2</text>
<line x1="356.20" y1="295.00" x2="362.80" y2="295.00" stroke="#000" stroke-width="1.8"/>
<text x="355.00" y="299.48" font-size="12.8" text-anchor="end" fill="#000">3</text>
<rect x="379.85" y="405.25" width="28.60" height="53.25" fill="#0000ff" stroke="#000" stroke-width="1.5"/>
<rect x="426.75" y="371.05" width="28.30" height="87.45" fill="#ff0000" stroke="#000" stroke-width="1.5"/>
<circle cx="384.60" cy="392.80" r="2.3"/>
<circle cx="394.30" cy="389.70" r="2.3"/>
<circle cx="403.70" cy="392.80" r="2.3"/>
<circle cx="394.30" cy="402.00" r="2.3"/>
<circle cx="389.30" cy="415.00" r="2.3"/>
<circle cx="399.00" cy="415.40" r="2.3"/>
<circle cx="394.30" cy="420.90" r="2.3"/>
<circle cx="441.00" cy="318.00" r="2.3"/>
<circle cx="435.90" cy="352.80" r="2.3"/>
<circle cx="445.50" cy="352.20" r="2.3"/>
<circle cx="441.00" cy="380.50" r="2.3"/>
<circle cx="441.00" cy="388.30" r="2.3"/>
<circle cx="435.90" cy="400.00" r="2.3"/>
<circle cx="445.50" cy="395.90" r="2.3"/>
<line x1="394.30" y1="399.00" x2="394.30" y2="408.80" stroke="#000" stroke-width="1.5"/>
<line x1="386.10" y1="399.00" x2="402.50" y2="399.00" stroke="#000" stroke-width="1.5"/>
<line x1="386.10" y1="408.80" x2="402.50" y2="408.80" stroke="#000" stroke-width="1.5"/>
<line x1="441.00" y1="358.40" x2="441.00" y2="380.90" stroke="#000" stroke-width="1.5"/>
<line x1="432.80" y1="358.40" x2="449.20" y2="358.40" stroke="#000" stroke-width="1.5"/>
<line x1="432.80" y1="380.90" x2="449.20" y2="380.90" stroke="#000" stroke-width="1.5"/>
<line x1="362.00" y1="458.50" x2="471.80" y2="458.50" stroke="#000" stroke-width="1.8"/>
<line x1="394.30" y1="458.50" x2="394.30" y2="464.50" stroke="#000" stroke-width="1.8"/>
<line x1="441.00" y1="458.50" x2="441.00" y2="464.50" stroke="#000" stroke-width="1.8"/>
<text x="394.00" y="477.20" font-size="12.5" text-anchor="middle" fill="#000">CP</text>
<text x="441.00" y="477.20" font-size="12.5" text-anchor="middle" fill="#000">SP</text>
<text x="440.70" y="309.39" font-size="19.0" text-anchor="middle" fill="#000" font-weight="bold">*</text>
<text x="506.40" y="306.50" font-size="29.5" text-anchor="start" fill="#000">E</text>
<rect x="542.90" y="356.30" width="85.20" height="41.40" fill="#e2e2e2"/>
<rect x="542.90" y="397.70" width="85.20" height="41.40" fill="url(#gE)"/>
<rect x="547.10" y="372.05" width="14.90" height="5.70" rx="1.90" fill="#a8a8a8" fill-opacity="1" filter="url(#bl1)"/>
<rect x="560.00" y="372.05" width="18.20" height="5.70" rx="1.90" fill="#8c8c8c" fill-opacity="1" filter="url(#bl1)"/>
<rect x="586.70" y="371.80" width="32.30" height="6.20" rx="2.07" fill="#707070" fill-opacity="1" filter="url(#bl1)"/>
<rect x="549.00" y="379.40" width="27.00" height="7.20" rx="2.40" fill="#d2d2d2" fill-opacity="1" filter="url(#bl2)"/>
<rect x="588.00" y="379.40" width="29.00" height="7.20" rx="2.40" fill="#cccccc" fill-opacity="1" filter="url(#bl2)"/>
<rect x="547.10" y="419.30" width="32.30" height="6.20" rx="2.07" fill="#9c9c9c" fill-opacity="1" filter="url(#bl1)"/>
<rect x="586.10" y="419.30" width="38.40" height="6.20" rx="2.07" fill="#a2a2a2" fill-opacity="1" filter="url(#bl1)"/>
<rect x="543.75" y="357.15" width="83.50" height="81.10" fill="none" stroke="#000" stroke-width="1.7"/>
<line x1="542.90" y1="397.70" x2="628.10" y2="397.70" stroke="#000" stroke-width="1.7"/>
<text x="564.50" y="352.00" font-size="13" text-anchor="middle" fill="#000">CP</text>
<text x="602.90" y="352.00" font-size="13" text-anchor="middle" fill="#000">SP</text>
<text x="533.60" y="385.60" font-size="13.1" text-anchor="end" fill="#000">IL-6</text>
<text x="535.80" y="429.00" font-size="13.1" text-anchor="end" fill="#000">β-actin</text>
<text x="649.30" y="376.20" font-size="13.1" text-anchor="middle" fill="#000" transform="rotate(-90 649.30 376.20)">Relative IL-6 expression level</text>
<line x1="671.60" y1="294.90" x2="671.60" y2="458.70" stroke="#000" stroke-width="1.8"/>
<line x1="665.40" y1="457.80" x2="671.60" y2="457.80" stroke="#000" stroke-width="1.8"/>
<text x="663.80" y="462.28" font-size="12.8" text-anchor="end" fill="#000">0</text>
<line x1="665.40" y1="425.40" x2="671.60" y2="425.40" stroke="#000" stroke-width="1.8"/>
<text x="663.80" y="429.88" font-size="12.8" text-anchor="end" fill="#000">1</text>
<line x1="665.40" y1="393.00" x2="671.60" y2="393.00" stroke="#000" stroke-width="1.8"/>
<text x="663.80" y="397.48" font-size="12.8" text-anchor="end" fill="#000">2</text>
<line x1="665.40" y1="360.60" x2="671.60" y2="360.60" stroke="#000" stroke-width="1.8"/>
<text x="663.80" y="365.08" font-size="12.8" text-anchor="end" fill="#000">3</text>
<line x1="665.40" y1="328.20" x2="671.60" y2="328.20" stroke="#000" stroke-width="1.8"/>
<text x="663.80" y="332.68" font-size="12.8" text-anchor="end" fill="#000">4</text>
<line x1="665.40" y1="295.80" x2="671.60" y2="295.80" stroke="#000" stroke-width="1.8"/>
<text x="663.80" y="300.28" font-size="12.8" text-anchor="end" fill="#000">5</text>
<rect x="688.25" y="426.05" width="28.50" height="31.75" fill="#0000ff" stroke="#000" stroke-width="1.5"/>
<rect x="734.45" y="393.75" width="28.60" height="64.05" fill="#ff0000" stroke="#000" stroke-width="1.5"/>
<circle cx="702.50" cy="412.00" r="2.3"/>
<circle cx="702.50" cy="420.00" r="2.3"/>
<circle cx="692.50" cy="428.30" r="2.3"/>
<circle cx="702.50" cy="428.70" r="2.3"/>
<circle cx="712.00" cy="430.00" r="2.3"/>
<circle cx="692.50" cy="434.20" r="2.3"/>
<circle cx="748.80" cy="331.50" r="2.3"/>
<circle cx="748.80" cy="356.30" r="2.3"/>
<circle cx="748.70" cy="398.80" r="2.3"/>
<circle cx="748.70" cy="404.20" r="2.3"/>
<circle cx="748.70" cy="410.00" r="2.3"/>
<circle cx="748.70" cy="420.80" r="2.3"/>
<circle cx="748.70" cy="428.80" r="2.3"/>
<line x1="702.50" y1="422.20" x2="702.50" y2="427.50" stroke="#000" stroke-width="1.5"/>
<line x1="694.30" y1="422.20" x2="710.70" y2="422.20" stroke="#000" stroke-width="1.5"/>
<line x1="694.30" y1="427.50" x2="710.70" y2="427.50" stroke="#000" stroke-width="1.5"/>
<line x1="748.70" y1="379.60" x2="748.70" y2="406.50" stroke="#000" stroke-width="1.5"/>
<line x1="740.50" y1="379.60" x2="756.90" y2="379.60" stroke="#000" stroke-width="1.5"/>
<line x1="740.50" y1="406.50" x2="756.90" y2="406.50" stroke="#000" stroke-width="1.5"/>
<line x1="670.80" y1="457.80" x2="780.00" y2="457.80" stroke="#000" stroke-width="1.8"/>
<line x1="702.50" y1="457.80" x2="702.50" y2="464.20" stroke="#000" stroke-width="1.8"/>
<line x1="748.70" y1="457.80" x2="748.70" y2="464.20" stroke="#000" stroke-width="1.8"/>
<text x="702.50" y="476.60" font-size="12.9" text-anchor="middle" fill="#000">CP</text>
<text x="748.70" y="476.60" font-size="12.9" text-anchor="middle" fill="#000">SP</text>
<text x="748.65" y="314.99" font-size="18.7" text-anchor="middle" fill="#000" font-weight="bold">*</text>
<text x="0.10" y="528.80" font-size="29.5" text-anchor="start" fill="#000">F</text>
<text x="195.30" y="516.80" font-size="17.7" text-anchor="start" fill="#000">IL-6</text>
<text x="68.30" y="615.20" font-size="14.8" text-anchor="middle" fill="#000" transform="rotate(-90 68.30 615.20)">Relative mRNA level</text>
<line x1="96.00" y1="538.90" x2="96.00" y2="693.50" stroke="#000" stroke-width="1.8"/>
<line x1="88.50" y1="692.60" x2="96.00" y2="692.60" stroke="#000" stroke-width="1.8"/>
<text x="86.70" y="697.78" font-size="14.8" text-anchor="end" fill="#000">0</text>
<line x1="88.50" y1="641.70" x2="96.00" y2="641.70" stroke="#000" stroke-width="1.8"/>
<text x="86.70" y="646.88" font-size="14.8" text-anchor="end" fill="#000">1</text>
<line x1="88.50" y1="590.80" x2="96.00" y2="590.80" stroke="#000" stroke-width="1.8"/>
<text x="86.70" y="595.98" font-size="14.8" text-anchor="end" fill="#000">2</text>
<line x1="88.50" y1="539.90" x2="96.00" y2="539.90" stroke="#000" stroke-width="1.8"/>
<text x="86.70" y="545.08" font-size="14.8" text-anchor="end" fill="#000">3</text>
<rect x="114.70" y="643.10" width="32.60" height="49.50" fill="#0000ff" stroke="#000" stroke-width="2.0"/>
<rect x="167.50" y="658.80" width="32.60" height="33.80" fill="#0000ff" stroke="#000" stroke-width="2.0"/>
<rect x="220.30" y="658.80" width="32.60" height="33.80" fill="#0000ff" stroke="#000" stroke-width="2.0"/>
<rect x="273.30" y="585.60" width="32.60" height="107.00" fill="#ff0000" stroke="#000" stroke-width="2.0"/>
<circle cx="123.70" cy="640.50" r="1.75"/>
<circle cx="123.70" cy="644.60" r="1.75"/>
<circle cx="130.90" cy="641.70" r="1.75"/>
<circle cx="138.40" cy="638.50" r="1.75"/>
<circle cx="138.40" cy="643.80" r="1.75"/>
<circle cx="172.70" cy="656.60" r="1.75"/>
<circle cx="180.30" cy="661.20" r="1.75"/>
<circle cx="187.70" cy="653.90" r="1.75"/>
<circle cx="187.70" cy="658.00" r="1.75"/>
<circle cx="194.60" cy="655.00" r="1.75"/>
<circle cx="229.20" cy="655.00" r="1.75"/>
<circle cx="229.20" cy="659.60" r="1.75"/>
<circle cx="236.60" cy="658.00" r="1.75"/>
<circle cx="243.80" cy="653.90" r="1.75"/>
<circle cx="243.80" cy="658.50" r="1.75"/>
<circle cx="289.70" cy="555.80" r="1.75"/>
<circle cx="289.70" cy="570.80" r="1.75"/>
<circle cx="289.70" cy="583.50" r="1.75"/>
<circle cx="289.70" cy="588.50" r="1.75"/>
<circle cx="289.70" cy="622.00" r="1.75"/>
<line x1="131.00" y1="640.60" x2="131.00" y2="643.00" stroke="#000" stroke-width="1.0"/>
<line x1="122.50" y1="640.60" x2="139.50" y2="640.60" stroke="#000" stroke-width="1.0"/>
<line x1="122.50" y1="643.00" x2="139.50" y2="643.00" stroke="#000" stroke-width="1.0"/>
<line x1="183.80" y1="656.00" x2="183.80" y2="659.50" stroke="#000" stroke-width="1.0"/>
<line x1="175.30" y1="656.00" x2="192.30" y2="656.00" stroke="#000" stroke-width="1.0"/>
<line x1="175.30" y1="659.50" x2="192.30" y2="659.50" stroke="#000" stroke-width="1.0"/>
<line x1="236.60" y1="656.00" x2="236.60" y2="659.50" stroke="#000" stroke-width="1.0"/>
<line x1="228.10" y1="656.00" x2="245.10" y2="656.00" stroke="#000" stroke-width="1.0"/>
<line x1="228.10" y1="659.50" x2="245.10" y2="659.50" stroke="#000" stroke-width="1.0"/>
<line x1="289.60" y1="573.30" x2="289.60" y2="595.40" stroke="#000" stroke-width="1.1"/>
<line x1="280.50" y1="573.30" x2="298.70" y2="573.30" stroke="#000" stroke-width="1.1"/>
<line x1="280.50" y1="595.40" x2="298.70" y2="595.40" stroke="#000" stroke-width="1.1"/>
<line x1="88.10" y1="692.60" x2="324.30" y2="692.60" stroke="#000" stroke-width="1.8"/>
<line x1="131.00" y1="692.60" x2="131.00" y2="700.60" stroke="#000" stroke-width="1.8"/>
<line x1="183.80" y1="692.60" x2="183.80" y2="700.60" stroke="#000" stroke-width="1.8"/>
<line x1="236.60" y1="692.60" x2="236.60" y2="700.60" stroke="#000" stroke-width="1.8"/>
<line x1="289.60" y1="692.60" x2="289.60" y2="700.60" stroke="#000" stroke-width="1.8"/>
<text x="290.04" y="547.58" font-size="18.4" text-anchor="middle" fill="#000" font-weight="bold" letter-spacing="1.58">***</text>
<text x="134.00" y="712.70" font-size="15" text-anchor="end" fill="#000" transform="rotate(-45 134.00 712.70)">5 mM Glucose</text>
<text x="186.80" y="712.70" font-size="15" text-anchor="end" fill="#000" transform="rotate(-45 186.80 712.70)">15 mM Glucose</text>
<text x="239.60" y="712.70" font-size="15" text-anchor="end" fill="#000" transform="rotate(-45 239.60 712.70)">25 mM Glucose</text>
<text x="292.60" y="712.70" font-size="15" text-anchor="end" fill="#000" transform="rotate(-45 292.60 712.70)">FFA</text>
<text x="381.60" y="529.00" font-size="29.5" text-anchor="start" fill="#000">G</text>
<text x="570.70" y="516.00" font-size="18" text-anchor="start" fill="#000">IL-6</text>
<text x="439.80" y="617.00" font-size="15.2" text-anchor="middle" fill="#000" transform="rotate(-90 439.80 617.00)">Relative mRNA level</text>
<line x1="468.70" y1="537.90" x2="468.70" y2="696.30" stroke="#000" stroke-width="1.8"/>
<line x1="461.40" y1="695.40" x2="468.70" y2="695.40" stroke="#000" stroke-width="1.8"/>
<text x="459.60" y="700.58" font-size="14.8" text-anchor="end" fill="#000">0</text>
<line x1="461.40" y1="643.20" x2="468.70" y2="643.20" stroke="#000" stroke-width="1.8"/>
<text x="459.60" y="648.38" font-size="14.8" text-anchor="end" fill="#000">1</text>
<line x1="461.40" y1="591.00" x2="468.70" y2="591.00" stroke="#000" stroke-width="1.8"/>
<text x="459.60" y="596.18" font-size="14.8" text-anchor="end" fill="#000">2</text>
<line x1="461.40" y1="538.80" x2="468.70" y2="538.80" stroke="#000" stroke-width="1.8"/>
<text x="459.60" y="543.98" font-size="14.8" text-anchor="end" fill="#000">3</text>
<rect x="488.15" y="644.95" width="32.90" height="50.45" fill="#0000ff" stroke="#000" stroke-width="2.1"/>
<rect x="542.45" y="599.05" width="32.90" height="96.35" fill="#0000ff" stroke="#000" stroke-width="2.1"/>
<rect x="596.45" y="597.65" width="32.90" height="97.75" fill="#0000ff" stroke="#000" stroke-width="2.1"/>
<rect x="650.65" y="649.95" width="32.90" height="45.45" fill="#ff0000" stroke="#000" stroke-width="2.1"/>
<circle cx="501.20" cy="636.50" r="2.0"/>
<circle cx="508.90" cy="636.50" r="2.0"/>
<circle cx="504.90" cy="644.60" r="2.0"/>
<circle cx="501.20" cy="651.50" r="2.0"/>
<circle cx="508.90" cy="650.40" r="2.0"/>
<circle cx="558.90" cy="568.50" r="2.0"/>
<circle cx="558.90" cy="586.90" r="2.0"/>
<circle cx="555.00" cy="607.20" r="2.0"/>
<circle cx="562.60" cy="607.70" r="2.0"/>
<circle cx="558.90" cy="615.80" r="2.0"/>
<circle cx="612.80" cy="570.80" r="2.0"/>
<circle cx="609.10" cy="595.40" r="2.0"/>
<circle cx="616.80" cy="593.60" r="2.0"/>
<circle cx="609.10" cy="609.20" r="2.0"/>
<circle cx="616.80" cy="608.90" r="2.0"/>
<circle cx="663.50" cy="637.60" r="2.0"/>
<circle cx="671.00" cy="639.40" r="2.0"/>
<circle cx="667.40" cy="643.90" r="2.0"/>
<circle cx="667.40" cy="656.40" r="2.0"/>
<circle cx="667.40" cy="663.10" r="2.0"/>
<line x1="504.60" y1="640.50" x2="504.60" y2="646.50" stroke="#333" stroke-width="1.3"/>
<line x1="495.35" y1="640.50" x2="513.85" y2="640.50" stroke="#333" stroke-width="1.3"/>
<line x1="495.35" y1="646.50" x2="513.85" y2="646.50" stroke="#333" stroke-width="1.3"/>
<line x1="558.90" y1="588.50" x2="558.90" y2="605.90" stroke="#333" stroke-width="1.3"/>
<line x1="549.65" y1="588.50" x2="568.15" y2="588.50" stroke="#333" stroke-width="1.3"/>
<line x1="549.65" y1="605.90" x2="568.15" y2="605.90" stroke="#333" stroke-width="1.3"/>
<line x1="612.90" y1="588.60" x2="612.90" y2="602.70" stroke="#333" stroke-width="1.3"/>
<line x1="603.65" y1="588.60" x2="622.15" y2="588.60" stroke="#333" stroke-width="1.3"/>
<line x1="603.65" y1="602.70" x2="622.15" y2="602.70" stroke="#333" stroke-width="1.3"/>
<line x1="667.10" y1="643.30" x2="667.10" y2="653.20" stroke="#333" stroke-width="1.3"/>
<line x1="657.85" y1="643.30" x2="676.35" y2="643.30" stroke="#333" stroke-width="1.3"/>
<line x1="657.85" y1="653.20" x2="676.35" y2="653.20" stroke="#333" stroke-width="1.3"/>
<line x1="461.40" y1="695.40" x2="703.90" y2="695.40" stroke="#000" stroke-width="1.8"/>
<line x1="504.60" y1="695.40" x2="504.60" y2="702.90" stroke="#000" stroke-width="1.8"/>
<line x1="558.90" y1="695.40" x2="558.90" y2="702.90" stroke="#000" stroke-width="1.8"/>
<line x1="612.90" y1="695.40" x2="612.90" y2="702.90" stroke="#000" stroke-width="1.8"/>
<line x1="667.10" y1="695.40" x2="667.10" y2="702.90" stroke="#000" stroke-width="1.8"/>
<text x="559.35" y="558.58" font-size="18.4" text-anchor="middle" fill="#000" font-weight="bold" letter-spacing="1.7">***</text>
<text x="612.35" y="558.58" font-size="18.4" text-anchor="middle" fill="#000" font-weight="bold" letter-spacing="1.7">***</text>
<text x="508.60" y="714.50" font-size="14.5" text-anchor="end" fill="#000" transform="rotate(-45 508.60 714.50)">5 mM Glucose</text>
<text x="562.90" y="714.50" font-size="14.5" text-anchor="end" fill="#000" transform="rotate(-45 562.90 714.50)">15 mM Glucose</text>
<text x="616.90" y="714.50" font-size="14.5" text-anchor="end" fill="#000" transform="rotate(-45 616.90 714.50)">25 mM Glucose</text>
<text x="671.10" y="714.50" font-size="14.5" text-anchor="end" fill="#000" transform="rotate(-45 671.10 714.50)">FFA</text>
<text x="-0.40" y="823.80" font-size="30.3" text-anchor="start" fill="#000">H</text>
<rect x="125.50" y="858.50" width="85.20" height="41.40" fill="#d9d9d9"/>
<rect x="125.50" y="899.90" width="85.20" height="41.80" fill="#e0e0e0"/>
<rect x="134.00" y="875.40" width="28.00" height="5.20" rx="1.73" fill="#b6b6b6" fill-opacity="1" filter="url(#bl1)"/>
<rect x="171.20" y="874.65" width="30.40" height="6.70" rx="2.23" fill="#727272" fill-opacity="1" filter="url(#bl1)"/>
<rect x="146.00" y="887.70" width="14.00" height="6.20" rx="2.07" fill="#cacaca" fill-opacity="1" filter="url(#bl2)"/>
<rect x="173.00" y="887.70" width="25.00" height="6.20" rx="2.07" fill="#cdcdcd" fill-opacity="1" filter="url(#bl2)"/>
<rect x="130.40" y="912.70" width="37.10" height="6.20" rx="2.07" fill="#606060" fill-opacity="1" filter="url(#bl1)"/>
<rect x="175.40" y="914.10" width="29.90" height="6.20" rx="2.07" fill="#575757" fill-opacity="1" filter="url(#bl1)"/>
<rect x="130.40" y="922.90" width="37.10" height="5.20" rx="1.73" fill="#a8a8a8" fill-opacity="1" filter="url(#bl1)"/>
<rect x="176.00" y="924.10" width="28.00" height="5.20" rx="1.73" fill="#aaaaaa" fill-opacity="1" filter="url(#bl1)"/>
<rect x="126.35" y="859.35" width="83.50" height="81.50" fill="none" stroke="#000" stroke-width="1.7"/>
<line x1="125.50" y1="899.90" x2="210.70" y2="899.90" stroke="#000" stroke-width="1.7"/>
<text x="148.00" y="855.40" font-size="13" text-anchor="middle" fill="#000">CP</text>
<text x="186.60" y="855.40" font-size="13" text-anchor="middle" fill="#000">SP</text>
<text x="117.50" y="887.10" font-size="13.3" text-anchor="end" fill="#000">p-Stat3(Tyr705)</text>
<text x="118.80" y="923.50" font-size="13.1" text-anchor="end" fill="#000">Stat3</text>
<text x="287.00" y="814.50" font-size="16.3" text-anchor="start" fill="#000">p-Stat3/Stat3</text>
<text x="242.90" y="886.00" font-size="13.8" text-anchor="middle" fill="#000" transform="rotate(-90 242.90 886.00)">Relative expression level</text>
<line x1="269.20" y1="822.20" x2="269.20" y2="952.70" stroke="#000" stroke-width="1.8"/>
<line x1="263.20" y1="951.80" x2="269.20" y2="951.80" stroke="#000" stroke-width="1.8"/>
<text x="261.60" y="956.70" font-size="14" text-anchor="end" fill="#000">0</text>
<line x1="263.20" y1="926.06" x2="269.20" y2="926.06" stroke="#000" stroke-width="1.8"/>
<text x="261.60" y="930.96" font-size="14" text-anchor="end" fill="#000">1</text>
<line x1="263.20" y1="900.32" x2="269.20" y2="900.32" stroke="#000" stroke-width="1.8"/>
<text x="261.60" y="905.22" font-size="14" text-anchor="end" fill="#000">2</text>
<line x1="263.20" y1="874.58" x2="269.20" y2="874.58" stroke="#000" stroke-width="1.8"/>
<text x="261.60" y="879.48" font-size="14" text-anchor="end" fill="#000">3</text>
<line x1="263.20" y1="848.84" x2="269.20" y2="848.84" stroke="#000" stroke-width="1.8"/>
<text x="261.60" y="853.74" font-size="14" text-anchor="end" fill="#000">4</text>
<line x1="263.20" y1="823.10" x2="269.20" y2="823.10" stroke="#000" stroke-width="1.8"/>
<text x="261.60" y="828.00" font-size="14" text-anchor="end" fill="#000">5</text>
<rect x="281.05" y="927.95" width="40.90" height="23.85" fill="#0000ff" stroke="#000" stroke-width="1.5"/>
<rect x="345.25" y="912.95" width="40.90" height="38.85" fill="#ff0000" stroke="#000" stroke-width="1.5"/>
<circle cx="301.50" cy="899.70" r="1.75"/>
<circle cx="301.50" cy="910.20" r="1.75"/>
<circle cx="291.20" cy="918.70" r="1.75"/>
<circle cx="297.90" cy="921.40" r="1.75"/>
<circle cx="305.00" cy="921.40" r="1.75"/>
<circle cx="311.70" cy="922.20" r="1.75"/>
<circle cx="291.20" cy="922.70" r="1.75"/>
<circle cx="291.20" cy="925.90" r="1.75"/>
<circle cx="297.90" cy="933.60" r="1.75"/>
<circle cx="305.00" cy="932.00" r="1.75"/>
<circle cx="291.20" cy="936.00" r="1.75"/>
<circle cx="291.20" cy="940.30" r="1.75"/>
<circle cx="305.00" cy="940.30" r="1.75"/>
<circle cx="311.70" cy="939.00" r="1.75"/>
<circle cx="297.90" cy="926.00" r="1.75"/>
<circle cx="305.00" cy="926.00" r="1.75"/>
<circle cx="365.80" cy="860.70" r="1.75"/>
<circle cx="365.80" cy="885.80" r="1.75"/>
<circle cx="355.40" cy="890.40" r="1.75"/>
<circle cx="362.40" cy="892.20" r="1.75"/>
<circle cx="369.20" cy="893.80" r="1.75"/>
<circle cx="365.80" cy="903.20" r="1.75"/>
<circle cx="355.40" cy="916.60" r="1.75"/>
<circle cx="362.40" cy="919.30" r="1.75"/>
<circle cx="369.20" cy="918.40" r="1.75"/>
<circle cx="376.00" cy="918.20" r="1.75"/>
<circle cx="362.40" cy="925.10" r="1.75"/>
<circle cx="369.20" cy="923.80" r="1.75"/>
<circle cx="362.40" cy="931.20" r="1.75"/>
<circle cx="369.20" cy="930.50" r="1.75"/>
<circle cx="369.20" cy="935.70" r="1.75"/>
<circle cx="362.40" cy="938.10" r="1.75"/>
<line x1="301.50" y1="923.30" x2="301.50" y2="928.80" stroke="#000" stroke-width="1.5"/>
<line x1="290.30" y1="923.30" x2="312.70" y2="923.30" stroke="#000" stroke-width="1.5"/>
<line x1="290.30" y1="928.80" x2="312.70" y2="928.80" stroke="#000" stroke-width="1.5"/>
<line x1="365.50" y1="906.40" x2="365.50" y2="916.40" stroke="#000" stroke-width="1.5"/>
<line x1="354.30" y1="906.40" x2="376.70" y2="906.40" stroke="#000" stroke-width="1.5"/>
<line x1="354.30" y1="916.40" x2="376.70" y2="916.40" stroke="#000" stroke-width="1.5"/>
<line x1="268.40" y1="951.80" x2="397.90" y2="951.80" stroke="#000" stroke-width="1.8"/>
<line x1="301.50" y1="951.80" x2="301.50" y2="957.30" stroke="#000" stroke-width="1.8"/>
<line x1="365.70" y1="951.80" x2="365.70" y2="957.30" stroke="#000" stroke-width="1.8"/>
<text x="300.80" y="971.30" font-size="14.3" text-anchor="middle" fill="#000">CP</text>
<text x="365.40" y="971.30" font-size="14.3" text-anchor="middle" fill="#000">SP</text>
<text x="365.80" y="846.12" font-size="21.6" text-anchor="middle" fill="#000" font-weight="bold">*</text>
<text x="462.40" y="825.80" font-size="29.5" text-anchor="start" fill="#000">I</text>
<text x="574.50" y="816.00" font-size="16.4" text-anchor="start" fill="#000">SOCS3</text>
<text x="514.50" y="885.50" font-size="14.2" text-anchor="middle" fill="#000" transform="rotate(-90 514.50 885.50)">Relative mRNA level</text>
<line x1="537.30" y1="820.90" x2="537.30" y2="952.80" stroke="#000" stroke-width="1.8"/>
<line x1="531.30" y1="951.90" x2="537.30" y2="951.90" stroke="#000" stroke-width="1.8"/>
<text x="529.70" y="956.80" font-size="14" text-anchor="end" fill="#000">0</text>
<line x1="531.30" y1="925.88" x2="537.30" y2="925.88" stroke="#000" stroke-width="1.8"/>
<text x="529.70" y="930.78" font-size="14" text-anchor="end" fill="#000">1</text>
<line x1="531.30" y1="899.86" x2="537.30" y2="899.86" stroke="#000" stroke-width="1.8"/>
<text x="529.70" y="904.76" font-size="14" text-anchor="end" fill="#000">2</text>
<line x1="531.30" y1="873.84" x2="537.30" y2="873.84" stroke="#000" stroke-width="1.8"/>
<text x="529.70" y="878.74" font-size="14" text-anchor="end" fill="#000">3</text>
<line x1="531.30" y1="847.82" x2="537.30" y2="847.82" stroke="#000" stroke-width="1.8"/>
<text x="529.70" y="852.72" font-size="14" text-anchor="end" fill="#000">4</text>
<line x1="531.30" y1="821.80" x2="537.30" y2="821.80" stroke="#000" stroke-width="1.8"/>
<text x="529.70" y="826.70" font-size="14" text-anchor="end" fill="#000">5</text>
<rect x="549.65" y="927.15" width="40.10" height="24.75" fill="#0000ff" stroke="#000" stroke-width="1.5"/>
<rect x="614.05" y="917.05" width="40.80" height="34.85" fill="#ff0000" stroke="#000" stroke-width="1.5"/>
<circle cx="566.00" cy="915.70" r="1.75"/>
<circle cx="573.10" cy="913.40" r="1.75"/>
<circle cx="552.20" cy="925.00" r="1.75"/>
<circle cx="559.10" cy="923.30" r="1.75"/>
<circle cx="566.00" cy="922.70" r="1.75"/>
<circle cx="579.90" cy="923.10" r="1.75"/>
<circle cx="587.00" cy="922.60" r="1.75"/>
<circle cx="559.10" cy="929.60" r="1.75"/>
<circle cx="566.00" cy="931.90" r="1.75"/>
<circle cx="573.10" cy="932.80" r="1.75"/>
<circle cx="579.90" cy="928.20" r="1.75"/>
<circle cx="587.00" cy="928.90" r="1.75"/>
<circle cx="569.50" cy="937.50" r="1.75"/>
<circle cx="573.10" cy="928.20" r="1.75"/>
<circle cx="634.50" cy="846.00" r="1.75"/>
<circle cx="634.50" cy="865.60" r="1.75"/>
<circle cx="634.50" cy="884.00" r="1.75"/>
<circle cx="623.90" cy="912.40" r="1.75"/>
<circle cx="623.90" cy="916.20" r="1.75"/>
<circle cx="631.10" cy="914.80" r="1.75"/>
<circle cx="638.00" cy="914.60" r="1.75"/>
<circle cx="634.50" cy="921.00" r="1.75"/>
<circle cx="623.90" cy="929.80" r="1.75"/>
<circle cx="631.10" cy="928.40" r="1.75"/>
<circle cx="631.10" cy="932.10" r="1.75"/>
<circle cx="638.00" cy="930.50" r="1.75"/>
<circle cx="623.90" cy="938.70" r="1.75"/>
<circle cx="631.10" cy="937.20" r="1.75"/>
<circle cx="638.00" cy="938.30" r="1.75"/>
<circle cx="644.90" cy="937.40" r="1.75"/>
<line x1="569.70" y1="924.30" x2="569.70" y2="927.50" stroke="#000" stroke-width="1.5"/>
<line x1="559.20" y1="924.30" x2="580.20" y2="924.30" stroke="#000" stroke-width="1.5"/>
<line x1="559.20" y1="927.50" x2="580.20" y2="927.50" stroke="#000" stroke-width="1.5"/>
<line x1="634.50" y1="908.70" x2="634.50" y2="922.00" stroke="#000" stroke-width="1.5"/>
<line x1="623.05" y1="908.70" x2="645.95" y2="908.70" stroke="#000" stroke-width="1.5"/>
<line x1="623.05" y1="922.00" x2="645.95" y2="922.00" stroke="#000" stroke-width="1.5"/>
<line x1="536.50" y1="951.90" x2="666.90" y2="951.90" stroke="#000" stroke-width="1.8"/>
<line x1="569.70" y1="951.90" x2="569.70" y2="957.40" stroke="#000" stroke-width="1.8"/>
<line x1="634.40" y1="951.90" x2="634.40" y2="957.40" stroke="#000" stroke-width="1.8"/>
<text x="569.40" y="971.50" font-size="14.3" text-anchor="middle" fill="#000">CP</text>
<text x="634.40" y="971.50" font-size="14.3" text-anchor="middle" fill="#000">SP</text>
<text x="0.90" y="1017.50" font-size="29.5" text-anchor="start" fill="#000">J</text>
<rect x="126.10" y="1041.10" width="86.00" height="41.20" fill="#e0e0e0"/>
<rect x="126.10" y="1082.30" width="86.00" height="41.20" fill="#d9d9d9"/>
<rect x="130.70" y="1054.20" width="30.50" height="6.20" rx="2.07" fill="#555555" fill-opacity="1" filter="url(#bl1)"/>
<rect x="171.00" y="1055.50" width="34.00" height="7.20" rx="2.40" fill="#303030" fill-opacity="1" filter="url(#bl1)"/>
<rect x="130.70" y="1066.30" width="30.50" height="5.20" rx="1.73" fill="#c6c6c6" fill-opacity="1" filter="url(#bl1)"/>
<rect x="171.50" y="1067.20" width="30.50" height="6.20" rx="2.07" fill="#9c9c9c" fill-opacity="1" filter="url(#bl1)"/>
<rect x="130.70" y="1098.70" width="33.50" height="6.20" rx="2.07" fill="#8a8a8a" fill-opacity="1" filter="url(#bl1)"/>
<rect x="170.30" y="1098.70" width="36.00" height="6.20" rx="2.07" fill="#9a9a9a" fill-opacity="1" filter="url(#bl1)"/>
<rect x="131.50" y="1108.90" width="32.00" height="5.20" rx="1.73" fill="#aaaaaa" fill-opacity="1" filter="url(#bl1)"/>
<rect x="171.50" y="1108.90" width="33.50" height="5.20" rx="1.73" fill="#b5b5b5" fill-opacity="1" filter="url(#bl1)"/>
<rect x="126.95" y="1041.95" width="84.30" height="80.70" fill="none" stroke="#000" stroke-width="1.7"/>
<line x1="126.10" y1="1082.30" x2="212.10" y2="1082.30" stroke="#000" stroke-width="1.7"/>
<line x1="127.00" y1="1080.90" x2="211.20" y2="1080.90" stroke="#f4f4f4" stroke-width="1.0"/>
<text x="148.00" y="1036.20" font-size="13" text-anchor="middle" fill="#000">CP</text>
<text x="186.60" y="1036.20" font-size="13" text-anchor="middle" fill="#000">SP</text>
<text x="118.30" y="1066.60" font-size="13.3" text-anchor="end" fill="#000">p-Stat3(Tyr705)</text>
<text x="119.70" y="1104.20" font-size="13.1" text-anchor="end" fill="#000">Stat3</text>
<text x="286.80" y="1018.30" font-size="16.3" text-anchor="start" fill="#000">p-Stat3/Stat3</text>
<text x="243.50" y="1089.70" font-size="13.7" text-anchor="middle" fill="#000" transform="rotate(-90 243.50 1089.70)">Relative expression level</text>
<line x1="269.90" y1="1025.70" x2="269.90" y2="1157.00" stroke="#000" stroke-width="1.8"/>
<line x1="263.90" y1="1156.10" x2="269.90" y2="1156.10" stroke="#000" stroke-width="1.8"/>
<text x="262.30" y="1161.00" font-size="14" text-anchor="end" fill="#000">0</text>
<line x1="263.90" y1="1130.20" x2="269.90" y2="1130.20" stroke="#000" stroke-width="1.8"/>
<text x="262.30" y="1135.10" font-size="14" text-anchor="end" fill="#000">1</text>
<line x1="263.90" y1="1104.30" x2="269.90" y2="1104.30" stroke="#000" stroke-width="1.8"/>
<text x="262.30" y="1109.20" font-size="14" text-anchor="end" fill="#000">2</text>
<line x1="263.90" y1="1078.40" x2="269.90" y2="1078.40" stroke="#000" stroke-width="1.8"/>
<text x="262.30" y="1083.30" font-size="14" text-anchor="end" fill="#000">3</text>
<line x1="263.90" y1="1052.50" x2="269.90" y2="1052.50" stroke="#000" stroke-width="1.8"/>
<text x="262.30" y="1057.40" font-size="14" text-anchor="end" fill="#000">4</text>
<line x1="263.90" y1="1026.60" x2="269.90" y2="1026.60" stroke="#000" stroke-width="1.8"/>
<text x="262.30" y="1031.50" font-size="14" text-anchor="end" fill="#000">5</text>
<rect x="281.35" y="1131.35" width="40.50" height="24.75" fill="#0000ff" stroke="#000" stroke-width="1.5"/>
<rect x="345.65" y="1116.55" width="40.50" height="39.55" fill="#ff0000" stroke="#000" stroke-width="1.5"/>
<circle cx="301.40" cy="1103.30" r="1.75"/>
<circle cx="301.40" cy="1113.70" r="1.75"/>
<circle cx="291.20" cy="1122.50" r="1.75"/>
<circle cx="291.20" cy="1126.00" r="1.75"/>
<circle cx="297.90" cy="1125.30" r="1.75"/>
<circle cx="305.00" cy="1125.30" r="1.75"/>
<circle cx="311.70" cy="1125.90" r="1.75"/>
<circle cx="291.20" cy="1129.60" r="1.75"/>
<circle cx="297.90" cy="1137.20" r="1.75"/>
<circle cx="305.00" cy="1135.80" r="1.75"/>
<circle cx="291.20" cy="1139.60" r="1.75"/>
<circle cx="291.20" cy="1144.00" r="1.75"/>
<circle cx="305.00" cy="1143.80" r="1.75"/>
<circle cx="311.70" cy="1142.60" r="1.75"/>
<circle cx="297.90" cy="1130.00" r="1.75"/>
<circle cx="305.00" cy="1130.00" r="1.75"/>
<circle cx="365.80" cy="1065.00" r="1.75"/>
<circle cx="365.80" cy="1090.10" r="1.75"/>
<circle cx="355.40" cy="1094.70" r="1.75"/>
<circle cx="362.40" cy="1096.50" r="1.75"/>
<circle cx="369.20" cy="1098.10" r="1.75"/>
<circle cx="365.80" cy="1107.50" r="1.75"/>
<circle cx="355.40" cy="1120.90" r="1.75"/>
<circle cx="362.40" cy="1123.60" r="1.75"/>
<circle cx="369.20" cy="1122.70" r="1.75"/>
<circle cx="376.00" cy="1122.50" r="1.75"/>
<circle cx="362.40" cy="1129.40" r="1.75"/>
<circle cx="369.20" cy="1128.10" r="1.75"/>
<circle cx="362.40" cy="1135.50" r="1.75"/>
<circle cx="369.20" cy="1134.80" r="1.75"/>
<circle cx="369.20" cy="1140.00" r="1.75"/>
<circle cx="362.40" cy="1142.40" r="1.75"/>
<line x1="301.60" y1="1127.10" x2="301.60" y2="1132.40" stroke="#000" stroke-width="1.5"/>
<line x1="290.30" y1="1127.10" x2="312.90" y2="1127.10" stroke="#000" stroke-width="1.5"/>
<line x1="290.30" y1="1132.40" x2="312.90" y2="1132.40" stroke="#000" stroke-width="1.5"/>
<line x1="365.70" y1="1110.70" x2="365.70" y2="1120.70" stroke="#000" stroke-width="1.5"/>
<line x1="354.50" y1="1110.70" x2="376.90" y2="1110.70" stroke="#000" stroke-width="1.5"/>
<line x1="354.50" y1="1120.70" x2="376.90" y2="1120.70" stroke="#000" stroke-width="1.5"/>
<line x1="269.10" y1="1156.10" x2="397.90" y2="1156.10" stroke="#000" stroke-width="1.8"/>
<line x1="301.60" y1="1156.10" x2="301.60" y2="1161.60" stroke="#000" stroke-width="1.8"/>
<line x1="365.90" y1="1156.10" x2="365.90" y2="1161.60" stroke="#000" stroke-width="1.8"/>
<text x="301.40" y="1174.30" font-size="14.3" text-anchor="middle" fill="#000">CP</text>
<text x="365.60" y="1174.30" font-size="14.3" text-anchor="middle" fill="#000">SP</text>
<text x="365.90" y="1049.92" font-size="21.6" text-anchor="middle" fill="#000" font-weight="bold">*</text>
<text x="460.00" y="1018.90" font-size="29.5" text-anchor="start" fill="#000">K</text>
<text x="574.60" y="1019.20" font-size="16.3" text-anchor="start" fill="#000">SOCS3</text>
<text x="512.80" y="1088.90" font-size="14.0" text-anchor="middle" fill="#000" transform="rotate(-90 512.80 1088.90)">Relative mRNA level</text>
<line x1="537.30" y1="1024.50" x2="537.30" y2="1155.70" stroke="#000" stroke-width="1.8"/>
<line x1="531.30" y1="1154.80" x2="537.30" y2="1154.80" stroke="#000" stroke-width="1.8"/>
<text x="529.70" y="1159.70" font-size="14" text-anchor="end" fill="#000">0</text>
<line x1="531.30" y1="1111.54" x2="537.30" y2="1111.54" stroke="#000" stroke-width="1.8"/>
<text x="529.70" y="1116.44" font-size="14" text-anchor="end" fill="#000">2</text>
<line x1="531.30" y1="1068.28" x2="537.30" y2="1068.28" stroke="#000" stroke-width="1.8"/>
<text x="529.70" y="1073.18" font-size="14" text-anchor="end" fill="#000">4</text>
<line x1="531.30" y1="1025.02" x2="537.30" y2="1025.02" stroke="#000" stroke-width="1.8"/>
<text x="529.70" y="1029.92" font-size="14" text-anchor="end" fill="#000">6</text>
<rect x="549.65" y="1134.75" width="40.20" height="20.05" fill="#0000ff" stroke="#000" stroke-width="1.5"/>
<rect x="614.55" y="1113.75" width="40.20" height="41.05" fill="#ff0000" stroke="#000" stroke-width="1.5"/>
<circle cx="566.50" cy="1124.20" r="1.75"/>
<circle cx="573.50" cy="1123.90" r="1.75"/>
<circle cx="573.50" cy="1128.10" r="1.75"/>
<circle cx="559.60" cy="1130.70" r="1.75"/>
<circle cx="580.40" cy="1129.20" r="1.75"/>
<circle cx="566.50" cy="1131.60" r="1.75"/>
<circle cx="552.40" cy="1133.80" r="1.75"/>
<circle cx="587.30" cy="1133.80" r="1.75"/>
<circle cx="573.50" cy="1132.70" r="1.75"/>
<circle cx="573.50" cy="1136.20" r="1.75"/>
<circle cx="566.50" cy="1139.60" r="1.75"/>
<circle cx="573.50" cy="1141.20" r="1.75"/>
<circle cx="580.40" cy="1139.30" r="1.75"/>
<circle cx="570.00" cy="1146.50" r="1.75"/>
<circle cx="634.80" cy="1043.30" r="1.75"/>
<circle cx="634.80" cy="1053.80" r="1.75"/>
<circle cx="634.80" cy="1070.00" r="1.75"/>
<circle cx="634.80" cy="1093.10" r="1.75"/>
<circle cx="634.50" cy="1107.60" r="1.75"/>
<circle cx="634.50" cy="1117.30" r="1.75"/>
<circle cx="624.20" cy="1129.60" r="1.75"/>
<circle cx="631.20" cy="1127.30" r="1.75"/>
<circle cx="638.10" cy="1128.10" r="1.75"/>
<circle cx="645.00" cy="1128.10" r="1.75"/>
<circle cx="631.20" cy="1139.30" r="1.75"/>
<circle cx="638.10" cy="1138.10" r="1.75"/>
<circle cx="631.20" cy="1147.00" r="1.75"/>
<circle cx="638.10" cy="1145.00" r="1.75"/>
<line x1="569.70" y1="1131.90" x2="569.70" y2="1135.40" stroke="#000" stroke-width="1.5"/>
<line x1="558.70" y1="1131.90" x2="580.70" y2="1131.90" stroke="#000" stroke-width="1.5"/>
<line x1="558.70" y1="1135.40" x2="580.70" y2="1135.40" stroke="#000" stroke-width="1.5"/>
<line x1="634.60" y1="1103.90" x2="634.60" y2="1120.80" stroke="#000" stroke-width="1.5"/>
<line x1="623.45" y1="1103.90" x2="645.75" y2="1103.90" stroke="#000" stroke-width="1.5"/>
<line x1="623.45" y1="1120.80" x2="645.75" y2="1120.80" stroke="#000" stroke-width="1.5"/>
<line x1="536.50" y1="1154.80" x2="666.60" y2="1154.80" stroke="#000" stroke-width="1.8"/>
<line x1="569.70" y1="1154.80" x2="569.70" y2="1160.30" stroke="#000" stroke-width="1.8"/>
<line x1="634.60" y1="1154.80" x2="634.60" y2="1160.30" stroke="#000" stroke-width="1.8"/>
<text x="569.60" y="1174.30" font-size="14.3" text-anchor="middle" fill="#000">CP</text>
<text x="634.60" y="1174.30" font-size="14.3" text-anchor="middle" fill="#000">SP</text>
<text x="634.75" y="1038.12" font-size="22.0" text-anchor="middle" fill="#000" font-weight="bold">*</text>
</svg>
</body></html>
